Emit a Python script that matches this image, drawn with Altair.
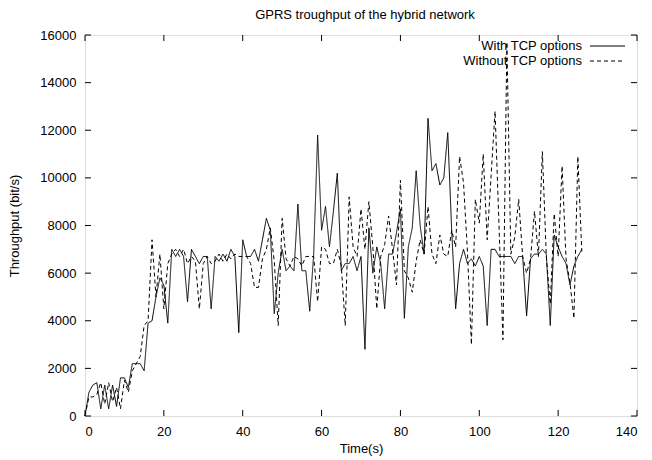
import altair as alt
import pandas as pd

# ---- data ----
time_s = list(range(0, 127))

with_tcp = [0, 1000, 1300, 1400, 300, 1300, 300, 1300, 400, 1600,
            1600, 1200, 2200, 2200, 2200, 1900, 3900, 4000, 5000, 5800,
            5500, 3900, 7000, 6700, 7000, 6700, 4800, 7000, 6700, 6400,
            6700, 6700, 4500, 6700, 6500, 6800, 6500, 7000, 6700, 3500,
            7400, 6700, 6700, 7000, 6500, 7400, 8300, 7800, 4300, 6000,
            7000, 6100, 6300, 6100, 8900, 6100, 6100, 4400, 6800, 11800,
            7800, 8800, 7100, 8600, 10200, 6100, 6400, 6400, 6700, 6100,
            6700, 2800, 7900, 6000, 7100, 6400, 4500, 6800, 6800, 7700,
            8700, 4100, 7100, 7900, 10300, 8000, 6800, 12500, 10300, 10600,
            9700, 10000, 11900, 7800, 4500, 6400, 7000, 6400, 6600, 6300,
            6700, 6300, 3800, 7000, 7000, 6700, 6700, 6700, 6700, 6400,
            6700, 6700, 4200, 6600, 6800, 6800, 7000, 6800, 3800, 7600,
            7100, 6700, 6400, 5500, 6300, 6700, 7000]

without_tcp = [0, 800, 800, 900, 1400, 500, 1400, 600, 1200, 300,
               1500, 1000, 1900, 2200, 2500, 3800, 4000, 7400, 5000, 6800,
               4500, 6400, 6800, 7000, 6700, 7000, 6400, 6700, 6500, 4500,
               6400, 6700, 6400, 6500, 6800, 6500, 6800, 6600, 6800, 6700,
               6700, 6700, 6400, 5400, 5400, 6600, 7000, 7900, 6500, 3800,
               8300, 6600, 6300, 6700, 6600, 6300, 6700, 6700, 6700, 4800,
               7100, 7000, 6400, 6400, 7000, 6300, 3800, 9200, 7100, 6700,
               8700, 7000, 9000, 7100, 4500, 6700, 7200, 8400, 7000, 5500,
               9900, 6100, 5800, 5200, 6500, 7400, 6800, 8800, 6800, 6400,
               7600, 6800, 6700, 7800, 7100, 10900, 9800, 6900, 3000, 9100,
               8100, 11000, 7400, 10100, 12800, 8000, 3200, 15700, 6800, 7500,
               9100, 6700, 6000, 6600, 8600, 6700, 11100, 6700, 4700, 8500,
               6700, 10500, 6600, 5600, 4100, 10900, 6900]

series_names = ["With TCP options", "Without TCP options"]
x_ticks = [0, 20, 40, 60, 80, 100, 120, 140]
y_ticks = [0, 2000, 4000, 6000, 8000, 10000, 12000, 14000, 16000]

W, H = 552, 381
FONT = "Liberation Sans"
FS = 13

df = pd.concat([
    pd.DataFrame({"t": time_s, "value": with_tcp, "series": series_names[0]}),
    pd.DataFrame({"t": time_s, "value": without_tcp, "series": series_names[1]}),
])
xt = pd.DataFrame({"t": x_ticks})
yt = pd.DataFrame({"value": y_ticks})

xscale = alt.Scale(domain=[0, 140], nice=False, zero=False)
yscale = alt.Scale(domain=[0, 16000], nice=False)

lines = alt.Chart(df).mark_line(color="black", strokeWidth=1).encode(
    x=alt.X("t:Q", scale=xscale, title="Time(s)",
            axis=alt.Axis(values=x_ticks, format="d", ticks=False, domain=False,
                          grid=False, labelPadding=9, titlePadding=4,
                          labelFont=FONT, titleFont=FONT, labelFontSize=FS,
                          titleFontSize=FS, titleFontWeight="normal",
                          labelColor="black", titleColor="black")),
    y=alt.Y("value:Q", scale=yscale, title="Throughput (bit/s)",
            axis=alt.Axis(values=y_ticks, format="d", ticks=False, domain=False,
                          grid=False, labelPadding=9, titlePadding=18,
                          labelFont=FONT, titleFont=FONT, labelFontSize=FS,
                          titleFontSize=FS, titleFontWeight="normal",
                          labelColor="black", titleColor="black")),
    strokeDash=alt.StrokeDash("series:N",
                              scale=alt.Scale(domain=series_names, range=[[1, 0], [4, 3]]),
                              legend=None),
    detail="series:N",
)

tick_len = 6
xt_bot = alt.Chart(xt).mark_rule(color="black", strokeWidth=1).encode(
    x=alt.X("t:Q", scale=xscale), y=alt.value(H), y2=alt.value(H - tick_len))
xt_top = alt.Chart(xt).mark_rule(color="black", strokeWidth=1).encode(
    x=alt.X("t:Q", scale=xscale), y=alt.value(0), y2=alt.value(tick_len))
yt_left = alt.Chart(yt).mark_rule(color="black", strokeWidth=1).encode(
    y=alt.Y("value:Q", scale=yscale), x=alt.value(0), x2=alt.value(tick_len))
yt_right = alt.Chart(yt).mark_rule(color="black", strokeWidth=1).encode(
    y=alt.Y("value:Q", scale=yscale), x=alt.value(W), x2=alt.value(W - tick_len))

one = pd.DataFrame({"k": [0]})
leg_x_text = 497
leg_x1, leg_x2 = 505, 540
leg_y = [11, 26]

leg_layers = []
for i, name in enumerate(series_names):
    leg_layers.append(
        alt.Chart(one).mark_text(align="right", baseline="middle", font=FONT,
                                 fontSize=FS, color="black").encode(
            x=alt.value(leg_x_text), y=alt.value(leg_y[i]), text=alt.value(name)))
    leg_layers.append(
        alt.Chart(one).mark_rule(color="black", strokeWidth=1,
                                 strokeDash=[1, 0] if i == 0 else [4, 3]).encode(
            x=alt.value(leg_x1), x2=alt.value(leg_x2), y=alt.value(leg_y[i])))

chart = alt.layer(lines, xt_bot, xt_top, yt_left, yt_right, *leg_layers).properties(
    width=W, height=H,
    title=alt.TitleParams("GPRS troughput of the hybrid network", font=FONT,
                          fontSize=FS, fontWeight="normal", color="black",
                          offset=7, dx=4),
    autosize=alt.AutoSizeParams(type="none"),
    padding={"left": 85, "top": 35, "right": 15, "bottom": 44},
).configure_view(
    stroke="black", strokeWidth=1
).configure(background="white")

chart.save("out.html", embed_options={"renderer": "svg", "actions": False})
